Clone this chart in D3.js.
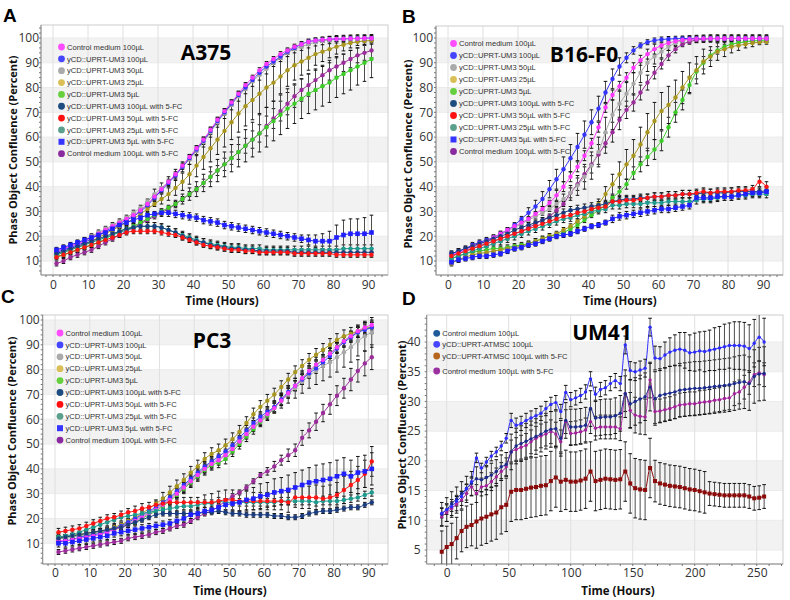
<!DOCTYPE html>
<html><head><meta charset="utf-8">
<script src="https://cdn.jsdelivr.net/npm/d3@7/dist/d3.min.js"></script>
<style>html,body{margin:0;padding:0;background:#fff}svg{display:block}</style>
</head><body>
<svg id="chart" width="790" height="600"></svg>
<script>
// ---------------- categories & tick labels ----------------
const hoursABC = [1,3,5,7,9,11,13,15,17,19,21,23,25,27,29,31,33,35,37,39,41,43,45,47,49,51,53,55,57,59,61,63,65,67,69,71,73,75,77,79,81,83,85,87,89,91];
const hoursD = [-4,0,4,8,12,16,20,24,28,32,36,40,44,48,52,56,60,64,68,72,76,80,84,88,92,96,100,104,108,112,116,120,124,128,132,136,140,144,148,152,156,160,164,168,172,176,180,184,188,192,196,200,204,208,212,216,220,224,228,232,236,240,244,248,252,256];
const xTicksABC = [0,10,20,30,40,50,60,70,80,90];
const yTicksABC = [10,20,30,40,50,60,70,80,90,100];
const xTicksD = [0,50,100,150,200,250];
const yTicksD = [5,10,15,20,25,30,35,40];
const legendABC = ["Control medium 100µL","yCD::UPRT-UM3 100µL","yCD::UPRT-UM3 50µL","yCD::UPRT-UM3 25µL","yCD::UPRT-UM3 5µL","yCD::UPRT-UM3 100µL with 5-FC","yCD::UPRT-UM3 50µL with 5-FC","yCD::UPRT-UM3 25µL with 5-FC","yCD::UPRT-UM3 5µL with 5-FC","Control medium 100µL with 5-FC"];
const legendD = ["Control medium 100µL","yCD::UPRT-ATMSC 100µL","yCD::UPRT-ATMSC 100µL with 5-FC","Control medium 100µL with 5-FC"];

// ---------------- Panel A (A375) ----------------
const A_c100 = [14,15,16,17,18,19.5,21,22.5,24,25.5, 27,28.5,30.5,33,36,39,42,45,48.5,52, 55.5,59,63,67,70.5,74,77.5,81,84,87, 89.5,91.5,93.5,95,96.5,97.5,98.5,99,99.3,99.5, 99.6,99.7,99.8,99.8,99.9,99.9];
const A_u100 = [13.5,14.5,15.5,16.5,17.5,19,20.5,22,23.5,25, 26.5,28,30,32.5,35.5,38.5,41.5,44.5,48,51.5, 55,58.5,62.5,66.5,70,73.5,77,80,83,86, 88.5,90.5,92.5,94.5,96,97.5,98.5,99,99.3,99.5, 99.6,99.7,99.8,99.8,99.9,99.9];
const A_u50 = [14,15,16,17,18.5,20,21.5,23,24.5,26, 27.5,29.5,31.5,34,37,39.5,42,45,48,51, 54.5,58,62,66,69.5,73,76.5,79.5,82.5,85, 87.5,90,92,94,95.5,96.5,97.5,98.3,98.8,99.2, 99.5,99.6,99.7,99.8,99.8,99.9];
const A_u25 = [12.5,13.5,14.5,15.5,16.5,18,19.5,21,22.5,24, 25.5,27,29,31,33,35,37,39.5,42,45, 48.5,52,55.5,59,62.5,66,69.5,72.5,75,77.5, 80,82,84.5,87,89,90.5,92,93.5,94.5,95.5, 96.5,97.3,98,98.5,98.8,99];
const A_u5 = [12,12.5,13.5,14.5,15.5,16.5,17.5,19,20.5,22, 23,24,25.5,27,28.5,30,31.5,33,35,37, 39,41.5,44,46.5,49,51.5,54,56.5,59,61.5, 64,66.5,69,71.5,73.5,75.5,77.5,79,80.5,82, 84,85.5,87,88.5,90,91.5];
const A_u100f = [13,14,15,16,17,18,19,20,21,22, 23,23.5,24,24,24,23.5,22.5,21.5,20,19, 18,17.5,16.5,16,15.5,15,15,14.5,14.5,14, 14,14,14,14,13.5,13.5,13.5,13.5,13.5,13.5, 13.5,13.5,13.5,13.5,13.5,13.5];
const A_u50f = [11.5,12.5,13.5,14.5,15.5,16.5,17.5,18.5,19.5,20.5, 21.5,22,22,22,22,21.5,21,20.5,19.5,18.5, 17.5,16.5,16,15.5,15,14.5,14.5,14,14,13.5, 13.5,13.5,13.5,13.5,13,13,13,13,13,13, 12.5,12.5,12.5,12.5,12.5,12.5];
const A_u25f = [12.5,13.5,14.5,15.5,16.5,17.5,18.5,19.5,20.5,21.5, 22.5,23.5,24,24,24,23.5,22.5,21.5,20.5,19.5, 18.5,17.5,17,16.5,16,15.5,15.5,15,15,15, 14.5,14.5,14.5,14.5,14.5,14.5,14.5,14.5,14.5,14.5, 14.5,15,15,15,15,15];
const A_u5f = [14.5,15.5,16.5,17.5,18.5,19.5,20.5,21.5,23,24.5, 25.5,26.5,27.5,28.5,29,29.5,29.5,29,28.5,28, 27.5,26.5,26,25.5,24.5,24,23.5,23,22.5,22, 21.5,21,20.5,20,19.5,19,18.5,18,18,18, 19.5,20.5,21,21,21,21.5];
const A_cf = [9,10,11.5,12.5,13.5,14.5,16,17.5,19,20.5, 22,23.5,25,26.5,28,29.5,31,33,35,37, 39,41.5,44,46.5,49,51.5,54,56.5,59,61.5, 64.5,67.5,70.5,73.5,76.5,79,81,83,85,87, 88.5,90,91.5,93,94,95];
const A_c100_e = [1,1,1,1,1,1,1,1,1,1, 1,1,1,1,1,1,1,1,1,1, 1,1,1,1,1,1,1,1,1,1, 1,1,1,1,1,1,1,1,1,1, 1,1,1,1,1,1];
const A_u100_e = [1,1,1,1,1,1,1,1,1,1, 1,1,1,1,1,1,1,1,1,1, 1,1,1,1,1,1,1,1,1,1, 1,1,1,1,1,1,1,1,1,1, 1,1,1,1,1,1];
const A_u50_e = [1,1,1,1,1,1,1,1,1,1, 1,1,1,1,2,2,2,2,2,2, 2,2,2,2,2,2,2,2,2,2, 2,1.5,1.5,1.5,1.5,1.5,1.5,1.5,1.5,1.5, 1.5,1.5,1.5,1.5,1.5,1.5];
const A_u25_e = [1,1,1,1,1,1,1,1,1,1, 1,1,1,1,1,2,2.5,3,3.5,4, 4.5,5,5.5,6,6.5,7,7.5,8,8,8, 8,7.5,7,6.5,6,5.5,5,4.5,4,3.5, 3,2.5,2,1.5,1.5,1.5];
const A_u5_e = [1,1,1,1,1,1,1,1,1,1, 1,1,1,1,1,1,1,1.5,2,2.5, 3,3.5,4,4.5,5,5.5,6,6.5,7,7.5, 8,8,8,8,8,8,8,8,8,8, 8,8,8,7.5,7.5,7.5];
const A_u100f_e = [1.5,1.5,1.5,1.5,1.5,1.5,1.5,1.5,1.5,1.5, 1.5,1.5,1.5,1.5,1.5,1.5,1.5,1.5,1.5,1.5, 1.5,1.5,1.5,1.5,1.5,1.5,1.5,1.5,1.5,1.5, 1.5,1.5,1.5,1.5,1.5,1.5,1.5,1.5,1.5,1.5, 1.5,1.5,1.5,1.5,1.5,1.5];
const A_u50f_e = [1,1,1,1,1,1,1,1,1,1, 1,1,1,1,1,1,1,1,1,1, 1,1,1,1,1,1,1,1,1,1, 1,1,1,1,1,1,1,1,1,1, 1,1,1,1,1,1];
const A_u25f_e = [1.5,1.5,1.5,1.5,1.5,1.5,1.5,1.5,1.5,1.5, 1.5,1.5,1.5,1.5,1.5,1.5,1.5,1.5,1.5,1.5, 1.5,1.5,1.5,1.5,1.5,1.5,1.5,1.5,1.5,1.5, 1.5,1.5,1.5,1.5,1.5,1.5,1.5,1.5,1.5,1.5, 1.5,1.5,1.5,1.5,1.5,1.5];
const A_u5f_e = [1,1,1,1,1,1,1,1,1,1, 1,1,1,1,1,1.5,1.5,1.5,1.5,1.5, 1.5,1.5,1.5,1.5,1.5,1.5,1.5,1.5,1.5,1.5, 1.5,1.5,1.5,1.5,1.5,1.5,2,2.5,3,4, 5,6,6,6,6.5,7];
const A_cf_e = [1,1,1,1,1,1,1,1,1,1, 1,1,1,1,1,1,1,1,1,1, 1,1.5,2,2,2.5,2.5,3,3,3.5,3.5, 4,4,4,4.5,4.5,4.5,4.5,4.5,4,4, 4,3.5,3.5,3,3,3];

// ---------------- Panel B (B16-F0) ----------------
const B_c100 = [12.5,13.5,14.5,16,17,18,19.5,21,22.5,24, 25.5,27,29,31,33.5,36.5,40,44,48,52.5, 57.5,64,72,77,80.5,84,88,91,93.5,95.5, 97,98,98.7,99.2,99.5,99.7,99.8,99.8,99.8,99.8, 99.8,99.8,99.8,99.8,99.8,99.8];
const B_u100 = [13,14,15,16.5,17.5,18.5,19.5,21,22.5,24.5, 27,29.5,32,35,39,43,47,51.5,56,61, 66,71.5,78,83.5,88.5,92,95,97,98.3,99, 99.4,99.6,99.7,99.8,99.8,99.8,99.8,99.8,99.8,99.8, 99.8,99.8,99.8,99.8,99.8,99.8];
const B_u50 = [12,13,14,15.5,16.5,17.5,19,20.5,22,23.5, 25,26.5,28,29.5,31,33,35,37.5,40.5,44, 48.5,54,62,69,73.5,77.5,81.5,86,90,92.5, 94.5,96.5,98,99,99.4,99.6,99.7,99.8,99.8,99.8, 99.8,99.8,99.8,99.8,99.8,99.8];
const B_u25 = [9,10.5,11.5,12.5,13,13.5,14,14.5,15,15.5, 16,17,18,19,20,21,22.5,24,26,28, 30,33,37,41,45,49,52.5,57,62,66.5, 70.5,73,76,80,84,87,90.5,92.5,94.5,95.5, 96.5,97,97.5,98,98.3,98.5];
const B_u5 = [11,12,13,13.5,14,14.5,15,15,15.5,16, 16.5,17,18,19,20,20.5,21.5,23,24.5,26.5, 28.5,30.5,32.5,35.5,38,41,45.5,49,52,55, 58.5,64,70,75,81,86.5,90,93,95,96.5, 97.5,98,98.5,98.8,99,99.2];
const B_u100f = [13,14,15,16,17,18,19,20,21,22.5, 23.5,24.5,25.5,26.5,27.5,28.5,29.5,30.5,31,31.5, 32,32.5,33,34,34.5,35,35,35.5,35.5,36, 36,36.5,36.5,37,37,37,37.5,37.5,37.5,37.5, 38,38,38,38,38,38.5];
const B_u50f = [12,13,14,15,16,17,18,19,20,21, 22,23,24,25,26,27,28,28.5,29.5,30, 31,31.5,32,34,34,34.5,34.5,35,35.5,36, 36,36.5,36.5,37,37,37.5,38,37.5,38,38, 38,38.5,38.5,39,42,40];
const B_u25f = [11,12,13,14,15,16,17,18,19,20, 21,22,23,24,25,26,27,27.5,28.5,29, 30,30.5,31,32.5,32.5,33,33,33,33.5,33.5, 33.5,34,34,34,34,34.5,35,35,35.5,36, 36,36.5,36.5,37,37,37];
const B_u5f = [9.5,10.5,11,11.5,12,12,12.5,13,14,15, 15.5,16.5,17,18,19,20,20.5,21,22,23, 24,24.5,25.5,27,28,28.5,29,29.5,30,30.5, 31,31,31.5,32,32.5,35.5,35.5,35.5,36,36, 36,36.5,37,37.5,37.5,38];
const B_cf = [12,13,14,15,16,17,18,19,20,21, 22,23.5,25,26.5,28,30.5,33,37.5,41,45, 49,53,57.5,62,67,71,74,78,82,86, 89.5,93,95.5,97.5,98.5,99.2,99.5,99.7,99.8,99.8, 99.8,99.8,99.8,99.8,99.8,99.8];
const B_c100_e = [1,1,1,1,1,1,1,1,1,1, 1,1,1,1,1,2,2,2,2,2, 2,2,2,2,2,2,2,2,2,2, 1,1,1,1,1,1,1,1,1,1, 1,1,1,1,1,1];
const B_u100_e = [1,1,1,1,1,1,1,1,1,1, 1,2,2.5,3,3.5,4,5,5.5,5.5,5.5, 5,5,4.5,4,3.5,2,1.5,1,1,1, 1,1,1,1,1,1,1,1,1,1, 1,1,1,1,1,1];
const B_u50_e = [1,1,1,1,1,1,1,1,1,1, 1,1,1,1,1,1,2,3,4,5, 5.5,6,6,6,5.5,5,4.5,4,3.5,3, 2.5,1.5,1.5,1.5,1.5,1.5,1.5,1.5,1.5,1.5, 1.5,1.5,1.5,1.5,1.5,1.5];
const B_u25_e = [1,1,1,1,1,1,1,1,1,1, 1,1,1,1,1,1,1,1,1,1, 1,2,3,4,5,6,6.5,7,7.5,7.5, 7.5,7.5,7,6.5,6,5.5,5,4,3.5,3, 2.5,2,1.5,1.5,1,1];
const B_u5_e = [1,1,1,1,1,1,1,1,1,1, 1,1,1,1,1,1,1,1,1,1, 1,1,1,1,1.5,2,2.5,3,3.5,4, 4,4,4,4,3.5,3,2.5,2,1.5,1, 1,1,1,1,1,1];
const B_u100f_e = [1,1,1,1,1,1,1,1,1,1, 1,1,1,1,1,1.5,1.5,1.5,1.5,1.5, 1.5,1.5,1.5,1.5,1.5,1.5,1.5,1.5,1.5,1.5, 1.5,1.5,1.5,1.5,1.5,1.5,1.5,1.5,1.5,1.5, 1.5,1.5,1.5,1.5,1.5,1.5];
const B_u50f_e = [1.5,1.5,1.5,1.5,1.5,1.5,1.5,1.5,1.5,1.5, 1.5,1.5,1.5,1.5,1.5,1.5,1.5,1.5,1.5,1.5, 1.5,1.5,1.5,1.5,1.5,1.5,1.5,1.5,1.5,1.5, 1.5,1.5,1.5,1.5,1.5,1.5,1.5,1.5,1.5,1.5, 1.5,1.5,1.5,1.5,2,2];
const B_u25f_e = [1.5,1.5,1.5,1.5,1.5,1.5,1.5,1.5,1.5,1.5, 1.5,1.5,1.5,1.5,1.5,1.5,1.5,1.5,1.5,1.5, 1.5,1.5,1.5,1.5,1.5,1.5,1.5,1.5,1.5,1.5, 1.5,1.5,1.5,1.5,1.5,1.5,1.5,1.5,1.5,1.5, 1.5,1.5,1.5,1.5,1.5,1.5];
const B_u5f_e = [1,1,1,1,1,1,1,1,1,1, 1,1,1,1,1,1,1,1,1,1, 1,1,1,1.5,1.5,1.5,1.5,1.5,1.5,1.5, 1.5,1.5,1.5,1.5,1.5,1.5,1.5,1.5,1.5,1.5, 1.5,1.5,1.5,1.5,1.5,1.5];
const B_cf_e = [1,1,1,1,1,1,1,1,1,1, 1,1,1,1,1,1,1,2,2.5,3, 3.5,4,4,4,4,3.5,3.5,3,3,2.5, 2,2,1.5,1,1,1,1,1,1,1, 1,1,1,1,1,1];

// ---------------- Panel C (PC3) ----------------
const C_c100 = [11,11,11.5,12,12.5,13,13.5,14.5,15.5,16.5, 17.5,19,20.5,22,23.5,25.5,27.5,30,32.5,35, 37.5,40,42,43.5,45.5,48,51,54,57,59.5, 62,64.5,67.5,70.5,73.5,76.5,79.5,82,84,86.5, 89,91.5,93.5,95.5,97,98];
const C_u100 = [10.5,11,11.5,12.5,13,13.5,14,15,16,17, 18.5,20,21.5,23,24.5,26.5,28.5,31,33.5,36, 38.5,41,43,45,47,49.5,52.5,55.5,58.5,61, 63,65,68,71,73.5,76,78.5,80.5,83,85.5, 88.5,91,93,95,96,97];
const C_u50 = [12,12,12.5,13,13.5,14,14.5,15,16,17, 18,19.5,21,22.5,24,26,28,30.5,33,35.5, 38,40.5,42.5,44,46,48.5,51.5,54.5,57.5,60, 62.5,65,67.5,70,72.5,75,77.5,79.5,81.5,83, 85,87,89,91.5,93.5,95];
const C_u25 = [12,12.5,13,13.5,14,14.5,15,15.5,16.5,17.5, 19,20.5,22,24,26,28,30.5,33,35.5,38.5, 41,44,46,47.5,49.5,52,55,58.5,62,65, 67.5,70,73,76,79,81.5,84,86,88,90, 92,93.5,94.5,95.5,96.5,97];
const C_u5 = [12.5,12.5,13,13.5,13.5,14,14.5,15,15.5,16.5, 17.5,18.5,20,21.5,23,25,27,29.5,32,34.5, 37,39.5,41.5,42.5,44,47,50,53,56,59, 61.5,64.5,67.5,70.5,73.5,76,79,81.5,84,86.5, 89,91.5,93.5,95,96.5,97];
const C_u100f = [12,12.5,13,13.5,14,14.5,15,15.5,16,16.5, 17.5,18.5,19.5,20.5,21.5,22,22,22,22,22, 22,22.5,22.5,23,22.5,22,22,21.5,21.5,21.5, 21.5,21,21,20.5,20.5,21,22,22.5,23,23, 23.5,24,24.5,24.5,25.5,26.5];
const C_u50f = [14.5,15,15.5,16,17,18,19,20,20.5,21.5, 22.5,23,24,24.5,25.5,26,26.5,26.5,26.5,26.5, 26.5,26.5,26.5,27,27.5,27.5,27,27,27,27, 27,27,27,26.5,28.5,28.5,28.5,28.5,28,28.5, 29.5,31.5,33.5,35.5,38,43];
const C_u25f = [12.5,13,13.5,14.5,15.5,16.5,17.5,18.5,19.5,20.5, 21,21.5,22,22.5,23,23.5,24,24.5,25,25, 25.5,26,26,27,26.5,26.5,26.5,26.5,26.5,26.5, 26.5,26.5,27,27,27,27,27,26.5,27,27, 27,27.5,28,28.5,29.5,30.5];
const C_u5f = [10,10,10.5,11,11.5,12,12.5,13,14,14.5, 15,15.5,16,16.5,17,17.5,18,19,20,21.5, 22,23,23.5,24.5,25.5,26,26.5,27.5,28,29, 29.5,30.5,31,31.5,32.5,33.5,34.5,35,35.5,36, 37,38,37,38.5,39,40];
const C_cf = [6.5,7,7.5,8,8.5,9,9.5,10,10.5,11, 12,12.5,13,13.5,14.5,15,16,17,17.5,19, 20.5,22,23,25,27,29,30.5,32.5,35,37.5, 39,41,43.5,45.5,47.5,52.5,55.5,59,62.5,66, 69.5,72.5,76,79.5,82.5,85];
const C_c100_e = [1,1,1,1,1,1,1,1,1,1, 1,1,1,1,1,2,2,2,2,2, 2,2,2,2,2,2,2,2,2,2, 2,2,2,2,2,2,2,2,2,2, 2,2,2,2,2,2];
const C_u100_e = [1,1,1,1,1,1,1,1,1,1, 1,1,1,1,1,2,2,2,2,2, 2,2,2,2,2,2,2,2,2,2, 2,2,2,2,2,2,2,2,2,2, 2,2,2,2,2,2];
const C_u50_e = [1,1,1,1,1,1,1,1,1,1, 1,1,1,1,1,2,2,2,2,2, 2,2,2,2,2,2,2,2,2,2, 2,2,3,3.5,4,4.5,5,5.5,6,6, 6,6,6,6,6,6];
const C_u25_e = [1,1,1,1,1,1,1,1,1,1, 1,1,1,1,1,2.5,2.5,2.5,2.5,2.5, 2.5,2.5,2.5,2.5,2.5,2.5,2.5,2.5,2.5,2.5, 2.5,2.5,2.5,2.5,2.5,2.5,2.5,2.5,2.5,2.5, 2.5,2.5,2.5,2.5,2.5,2.5];
const C_u5_e = [1,1,1,1,1,1,1,1,1,1, 1,1,1,1,1,2,2,2,2,2, 2,2,2,2,2,2,2,2,2,2, 2,2,2,2,2,2,2,2,2,2, 2,2,2,2,2,2];
const C_u100f_e = [1,1,1,1,1,1,1,1,1,1, 1,1,1,1,1,1,1,1,1,1, 1,1,1,1,1,1,1,1,1,1, 1,1,1,1,1,1,1,1,1,1, 1,1,1,1,1,1];
const C_u50f_e = [1.5,1.5,1.5,1.5,1.5,1.5,1.5,1.5,1.5,1.5, 1.5,2,2,2,2,2,2,2,2,2, 2,3,3.5,4,4,4,4,4,3.5,3.5, 3.5,3.5,3.5,4,4,4.5,4.5,5,5,5, 5,5.5,5.5,5.5,5.5,6];
const C_u25f_e = [1.5,1.5,1.5,1.5,1.5,1.5,1.5,1.5,1.5,1.5, 1.5,1.5,1.5,1.5,1.5,1.5,1.5,1.5,1.5,1.5, 1.5,1.5,1.5,1.5,1.5,1.5,1.5,1.5,1.5,1.5, 1.5,1.5,1.5,1.5,1.5,1.5,1.5,1.5,1.5,1.5, 1.5,1.5,1.5,1.5,1.5,1.5];
const C_u5f_e = [1.5,1.5,1.5,1.5,1.5,1.5,1.5,1.5,1.5,1.5, 1.5,1.5,1.5,1.5,1.5,1.5,1.5,1.5,1.5,1.5, 1.5,1.5,1.5,2,2.5,3,3.5,4,4.5,5, 5,5.5,5.5,6,6,6,6,6.5,6.5,6.5, 6.5,6.5,6.5,6.5,6.5,6.5];
const C_cf_e = [1,1,1,1,1,1,1,1,1,1, 1,1,1,1,1,1,1,1,1,1, 1,1,1,1,1,1,1,1,1,1, 1.5,2,2,2.5,2.5,3,3,3.5,3.5,4, 4,4,4.5,4.5,5,5];

// ---------------- Panel D (UM41) ----------------
const D_ctrl = [11,11.8,12.8,13.6,14.5,15.4,16.2,17,16.8,17.2, 17.6,18.2,19,19.4,21.5,22.5,22.9,23.3,23.7,24.1, 24.5,25,25.3,25.4,23.8,26.8,25.7,25.7,25.8,26, 28.8,27.2,27.3,27.4,27.4,27.6,28,31.3,29.6,30, 30.4,30.8,32.4,30.5,31,31.2,31.4,31.6,31.9,32, 32.1,32.2,32.2,32.3,32.4,32.5,32.6,32.7,32.8,33, 33.2,33.3,33,34.2,34.6,34.7];
const D_yc = [11.2,11.8,12.3,13.2,14,15.3,16.5,20.5,18.8,19.8, 20.8,21.5,22.5,23.8,26.8,26,26.3,26.8,27.2,27.6, 28,28.8,29.5,29.8,28.3,31.5,30.3,30.6,31,31.6, 33.8,31.2,32,32.3,33,33.5,33,39.5,35.2,35, 35.3,35.6,42.5,37.3,37.2,37.8,38.3,38.6,38.8,38.6, 38.2,38.3,38.5,38.4,38.6,38.8,39,39.2,39.4,39.4, 39.4,39.3,38.9,39.8,40.8,40];
const D_ycf = [4.7,5.5,6,7,8.2,8.9,9.2,9.8,10.3,10.6, 11,11.3,12.2,12.6,14.8,15.1,15.1,15.3,15.5,15.6, 15.8,15.9,16.6,17.2,16.5,16.8,16.5,16.5,16.7,17, 18.2,16.6,16.8,17,16.9,16.8,16.9,18.2,16.2,15.4, 15.2,15.1,18.8,16.6,16.2,16,15.8,15.7,15.6,15.4, 15.2,15.1,14.9,14.7,14.5,14.4,14.3,14.2,14.2,14.2, 14.2,14.2,14,13.7,13.8,14];
const D_ctrlf = [10.6,11.3,12,12.7,13.4,14.5,15.6,14.5,15.6,15.8, 16.5,17.3,18.2,19,21.5,21.9,22.3,22.6,23.2,23.8, 24.2,24.5,24.9,24.5,23.2,26.6,24.6,24.7,24.9,25.2, 26.6,25.5,25.7,25.7,25.7,25.7,25.4,31.3,28.5,27.7, 27.5,27.4,33.6,28.3,28.4,28.6,28.8,29.1,29.4,29.5, 29.6,29.6,29.8,29.9,30,30.2,30.3,30.5,30.6,31.3, 31.6,32.4,33.2,34.5,34.8,34.5];
const D_ctrl_e = [2,2,2,2,2,2,2,2,2,2, 2,2,2,2,3,3,3,3,3,3, 3,3,3,3,3,3,3,3,3,3, 3,3,3,3,3,3,3,4,4,4, 4,4,4,4.5,4.5,4.5,4.5,4.5,4.5,4.5, 4.5,4.5,4.5,4.5,4.5,4.5,4.5,4.5,4.5,4.5, 4.5,4.5,4.5,4.5,4.5,4.5];
const D_yc_e = [0.8,0.8,0.8,0.8,0.8,0.8,0.8,0.8,0.8,0.8, 0.8,0.8,0.8,0.8,1.2,1.2,1.2,1.2,1.2,1.2, 1.2,1.2,1.2,1.2,1.2,1.2,1.2,1.2,1.2,1.2, 1.2,1.2,1.2,1.2,1.2,1.2,1.2,1.5,1.5,1.5, 1.5,1.5,1.5,2,2,2.2,2.4,2.6,2.8,3, 3,3.2,3.2,3.4,3.4,3.6,3.6,3.8,3.8,4, 4,4,4,4,4,4];
const D_ycf_e = [3.5,3.5,3.5,3.5,3.5,3.5,3.5,4.5,4.5,4.5, 4.5,4.5,4.5,4.5,5,5,5,5,5,5, 5,5,5,5,5,5,5,5,5,5, 5,5,5,5,5,5,5,5,5,5, 5,5,5,3.5,3.5,3.5,3.5,3.5,3.5,3.5, 3.5,3.5,3.5,3.5,2,2,2,2,2,2, 2,2,2,2,2,2];
const D_ctrlf_e = [1.5,1.5,1.5,1.5,1.5,1.5,1.5,1.5,1.5,1.5, 1.5,1.5,1.5,1.5,2,2,2,2,2,2, 2,2,2,2,2,2,2,2,2,2, 2,2,2,2,2,2,2,3,3,3, 3,3,3,2,2,2,2,2,2,2, 2,2,2,2,2,2,2,2,2,2, 2,2,2,2,2,2];

// ---------------- styles (kept apart from data) ----------------
const lineColorsABC = ["#ff38ff","#3434ff","#a8a8a8","#a8961e","#3ccc28","#1b3d80","#ff1414","#1e9a8f","#1f1fff","#9b2d9b"];
const legendColorsABC = ["#ff4dff","#4646ff","#aaaaaa","#d9bf55","#66cf3e","#1d4d80","#ff1010","#5aa08c","#3535ff","#8a2aa0"];
const lineColorsD = ["#1c2a8c","#2c2cff","#8b0a0a","#a3229a"];
const legendColorsD = ["#1f5a99","#4646ff","#b5651d","#9b30a0"];
const FONT = "'Open Sans','DejaVu Sans',sans-serif";
const LFONT = "'Liberation Sans',Arial,sans-serif";

function buildABC(v, e) { return v.map((vals, i) => ({values: vals, err: e[i]})); }
const seriesA = buildABC([A_c100,A_u100,A_u50,A_u25,A_u5,A_u100f,A_u50f,A_u25f,A_u5f,A_cf],[A_c100_e,A_u100_e,A_u50_e,A_u25_e,A_u5_e,A_u100f_e,A_u50f_e,A_u25f_e,A_u5f_e,A_cf_e]);
const seriesB = buildABC([B_c100,B_u100,B_u50,B_u25,B_u5,B_u100f,B_u50f,B_u25f,B_u5f,B_cf],[B_c100_e,B_u100_e,B_u50_e,B_u25_e,B_u5_e,B_u100f_e,B_u50f_e,B_u25f_e,B_u5f_e,B_cf_e]);
const seriesC = buildABC([C_c100,C_u100,C_u50,C_u25,C_u5,C_u100f,C_u50f,C_u25f,C_u5f,C_cf],[C_c100_e,C_u100_e,C_u50_e,C_u25_e,C_u5_e,C_u100f_e,C_u50f_e,C_u25f_e,C_u5f_e,C_cf_e]);
const seriesD = buildABC([D_ctrl,D_yc,D_ycf,D_ctrlf],[D_ctrl_e,D_yc_e,D_ycf_e,D_ctrlf_e]);

const svg = d3.select("#chart");
const defs = svg.append("defs");

function drawPanel(p) {
  const g = svg.append("g");
  const xs = d3.scaleLinear().domain(p.xDom).range(p.xRange);
  const ys = d3.scaleLinear().domain(p.yDom).range(p.yRange);
  const [fx0, fx1, fy0, fy1] = p.frame;

  g.append("g").selectAll("rect").data(p.bands).join("rect")
    .attr("x", fx0).attr("width", fx1 - fx0)
    .attr("y", d => ys(d[1])).attr("height", d => ys(d[0]) - ys(d[1]))
    .attr("fill", "#f2f2f2");
  g.append("g").selectAll("line").data(p.yTicks).join("line")
    .attr("x1", fx0).attr("x2", fx1).attr("y1", d => ys(d)).attr("y2", d => ys(d))
    .attr("stroke", "#ebebeb");
  g.append("g").selectAll("line").data(p.xTicks).join("line")
    .attr("y1", fy0).attr("y2", fy1).attr("x1", d => xs(d)).attr("x2", d => xs(d))
    .attr("stroke", "#e0e0e0");
  g.append("rect").attr("x", fx0).attr("y", fy0).attr("width", fx1 - fx0).attr("height", fy1 - fy0)
    .attr("fill", "none").attr("stroke", "#cdcdcd");
  g.append("line").attr("x1", fx0).attr("x2", fx0).attr("y1", fy0).attr("y2", fy1).attr("stroke", "#8c8c8c");
  g.append("line").attr("x1", fx0).attr("x2", fx1).attr("y1", fy1).attr("y2", fy1).attr("stroke", "#8c8c8c");

  // minor ticks
  const yLo = ys.invert(fy1), yHi = ys.invert(fy0);
  const yMinorVals = d3.range(Math.ceil(yLo / p.yMinor) * p.yMinor, yHi, p.yMinor);
  g.append("g").selectAll("line").data(yMinorVals).join("line")
    .attr("x1", fx0 - 2).attr("x2", fx0).attr("y1", d => ys(d)).attr("y2", d => ys(d)).attr("stroke", "#777");
  const xLo = xs.invert(fx0), xHi = xs.invert(fx1);
  const xMinorVals = d3.range(Math.ceil(xLo / p.xMinor) * p.xMinor, xHi, p.xMinor);
  g.append("g").selectAll("line").data(xMinorVals).join("line")
    .attr("y1", fy1).attr("y2", fy1 + 2).attr("x1", d => xs(d)).attr("x2", d => xs(d)).attr("stroke", "#777");

  // tick labels via d3 axes
  const ya = g.append("g").attr("transform", `translate(${fx0 - p.yPad},0)`)
    .call(d3.axisLeft(ys).tickValues(p.yTicks).tickSize(0).tickPadding(0));
  ya.select(".domain").remove();
  ya.selectAll("text").attr("font-family", FONT).attr("font-size", 12).attr("fill", "#333");
  const xa = g.append("g").attr("transform", `translate(0,${fy1})`)
    .call(d3.axisBottom(xs).tickValues(p.xTicks).tickSize(0).tickPadding(p.xPad));
  xa.select(".domain").remove();
  xa.selectAll("text").attr("font-family", FONT).attr("font-size", 12).attr("fill", "#333");

  // plotting area
  const clipId = "clip" + p.key;
  defs.append("clipPath").attr("id", clipId).append("rect")
    .attr("x", fx0).attr("y", fy0).attr("width", fx1 - fx0).attr("height", fy1 - fy0);
  const pg = g.append("g").attr("clip-path", `url(#${clipId})`);
  const line = d3.line().x(d => xs(d.t)).y(d => ys(d.v)).curve(d3.curveMonotoneX);
  const ser = p.order.map(i => ({
    idx: i,
    color: p.colors[i],
    shape: p.shapes[i],
    pts: p.hours.map((t, j) => ({t, v: p.series[i].values[j], e: (p.series[i].err || [])[j] || 0}))
                .filter(d => d.v != null)
  }));
  ser.forEach(s => pg.append("path").attr("d", line(s.pts)).attr("fill", "none")
    .attr("stroke", s.color).attr("stroke-width", 1));
  ser.forEach(s => {
    const eb = pg.append("g");
    const pts = s.pts.filter(d => d.e > 0);
    eb.selectAll("line.b").data(pts).join("line").attr("class", "b")
      .attr("x1", d => xs(d.t)).attr("x2", d => xs(d.t))
      .attr("y1", d => ys(d.v - d.e)).attr("y2", d => ys(d.v + d.e))
      .attr("stroke", "#4d4d4d").attr("stroke-width", 1);
    ["-", "+"].forEach(sg => {
      eb.selectAll("line.c" + (sg === "-" ? "m" : "p")).data(pts).join("line").attr("class", "c" + (sg === "-" ? "m" : "p"))
        .attr("x1", d => xs(d.t) - 1.8).attr("x2", d => xs(d.t) + 1.8)
        .attr("y1", d => ys(sg === "-" ? d.v - d.e : d.v + d.e))
        .attr("y2", d => ys(sg === "-" ? d.v - d.e : d.v + d.e))
        .attr("stroke", "#111").attr("stroke-width", 1);
    });
  });
  ser.forEach(s => {
    const mg = pg.append("g").attr("fill", s.color);
    if (s.shape === "square") {
      const sz = p.squareSize;
      mg.selectAll("rect").data(s.pts).join("rect")
        .attr("x", d => xs(d.t) - sz / 2).attr("y", d => ys(d.v) - sz / 2)
        .attr("width", sz).attr("height", sz);
    } else {
      mg.selectAll("circle").data(s.pts).join("circle")
        .attr("cx", d => xs(d.t)).attr("cy", d => ys(d.v)).attr("r", p.markerR);
    }
  });

  // legend
  const lg = g.append("g");
  p.legend.forEach((name, i) => {
    const y = p.legYs ? p.legYs[i] : p.legY + i * p.legDy;
    if (p.legShapes[i] === "square") {
      lg.append("rect").attr("x", p.legX - 3).attr("y", y - 3).attr("width", 6).attr("height", 6).attr("fill", p.legColors[i]);
    } else {
      lg.append("circle").attr("cx", p.legX).attr("cy", y).attr("r", 3.4).attr("fill", p.legColors[i]);
    }
    lg.append("text").attr("x", p.legX + p.legGap).attr("y", y).attr("dy", "0.35em")
      .attr("font-family", LFONT).attr("font-size", 7.6).attr("fill", "#333").text(name);
  });

  // titles
  g.append("text").attr("x", p.title[1]).attr("y", p.title[2]).attr("text-anchor", "middle")
    .attr("font-family", FONT).attr("font-weight", 700).attr("font-size", 21).attr("fill", "#000").text(p.title[0]);
  g.append("text").attr("x", p.letter[1]).attr("y", p.letter[2])
    .attr("font-family", LFONT).attr("font-weight", 700).attr("font-size", 19).attr("fill", "#000").text(p.letter[0]);
  g.append("text").attr("transform", `translate(${p.yTitle[0]},${p.yTitle[1]}) rotate(-90)`)
    .attr("text-anchor", "middle").attr("dy", "0.35em")
    .attr("font-family", FONT).attr("font-weight", 700).attr("font-size", 11).attr("fill", "#111")
    .text("Phase Object Confluence (Percent)");
  g.append("text").attr("x", p.xTitle[0]).attr("y", p.xTitle[1]).attr("text-anchor", "middle")
    .attr("font-family", FONT).attr("font-weight", 700).attr("font-size", 11.5).attr("fill", "#111")
    .text("Time (Hours)");
}

const shapesABC = ["circle","circle","circle","circle","circle","circle","circle","circle","square","circle"];
const orderABC = [9,4,3,2,1,0,7,5,6,8];
const bandsABC = [[10,20],[30,40],[50,60],[70,80],[90,100]];
const common = {hours: hoursABC, xDom: [0,90], yDom: [10,100], xTicks: xTicksABC, yTicks: yTicksABC,
  bands: bandsABC, yMinor: 2, xMinor: 2, colors: lineColorsABC, shapes: shapesABC, order: orderABC,
  legend: legendABC, legColors: legendColorsABC, legShapes: shapesABC, markerR: 2.2, squareSize: 4.6, legGap: 5.5};

drawPanel(Object.assign({}, common, {key: "A", series: seriesA, xRange: [53,368], yRange: [261,38],
  frame: [41,388,25,275], yPad: 2, xPad: 5, legX: 61.5, legY: 47, legDy: 11.85,
  title: ["A375",206,60], letter: ["A",3,22], yTitle: [13,150], xTitle: [222,305]}));
drawPanel(Object.assign({}, common, {key: "B", series: seriesB, xRange: [448,763], yRange: [261,38],
  frame: [436,783,26,275], yPad: 3, xPad: 5, legX: 453.5, legY: 43.5, legDy: 12.0,
  title: ["B16-F0",584,62], letter: ["B",402,23], yTitle: [408,154], xTitle: [620,305]}));
drawPanel(Object.assign({}, common, {key: "C", series: seriesC, xRange: [55,368.3], yRange: [543.3,320],
  frame: [42.7,388,315,564], yPad: 3, xPad: 4, legX: 60, legY: 333, legDy: 11.9,
  title: ["PC3",212,348], letter: ["C",1,303], yTitle: [12,431], xTitle: [230,595]}));
drawPanel({key: "D", series: seriesD, hours: hoursD, xDom: [0,250], yDom: [5,40], xRange: [446.7,756.7], yRange: [550,342],
  xTicks: xTicksD, yTicks: yTicksD, bands: [[5,10],[15,20],[25,30],[35,40]], yMinor: 1, xMinor: 10,
  frame: [426.7,783,315,564], yPad: 6, xPad: 4,
  colors: lineColorsD, shapes: ["circle","circle","square","circle"], order: [2,3,0,1],
  legend: legendD, legColors: legendColorsD, legShapes: ["circle","circle","circle","circle"],
  markerR: 1.7, squareSize: 4, legX: 436.7, legYs: [333.3,344.3,356,371], legGap: 5.5,
  title: ["UM41",602,340], letter: ["D",402,305], yTitle: [402,435], xTitle: [618,595]});
</script>
</body></html>
